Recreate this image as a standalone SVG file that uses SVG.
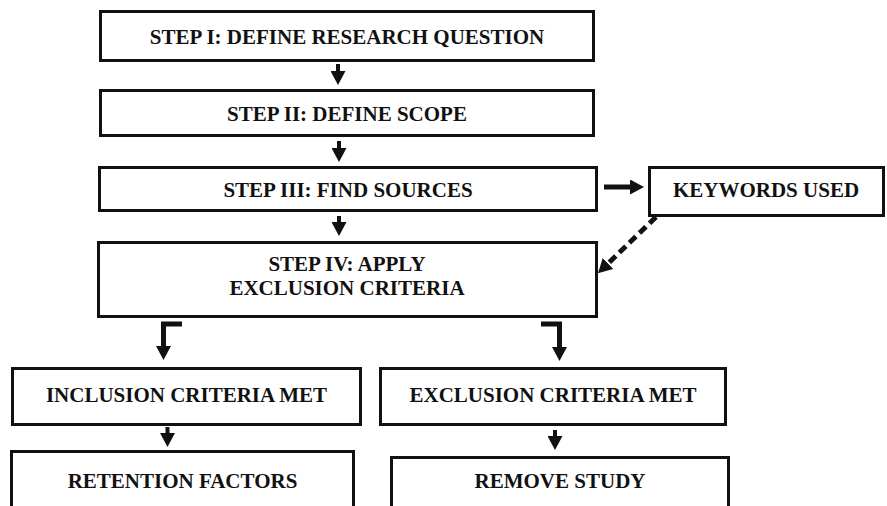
<svg xmlns="http://www.w3.org/2000/svg" width="887" height="506" viewBox="0 0 887 506">
  <style>
    .box { fill: #ffffff; stroke: #111111; stroke-width: 3; }
    .lbl { font-family: "Liberation Serif", "Times New Roman", serif; font-weight: bold; font-size: 21px; fill: #111111; text-anchor: middle; }
    .con { fill: none; stroke: #111111; stroke-linejoin: miter; stroke-linecap: butt; }
    .thin { stroke-width: 4; }
    .thick { stroke-width: 5; }
    .dash { stroke-width: 5; stroke-dasharray: 9 5; }
  </style>
  <defs>
    <marker id="head" viewBox="0 0 14 15" refX="0" refY="7.5" markerWidth="14" markerHeight="15" markerUnits="userSpaceOnUse" orient="auto">
      <path d="M0,0 L14,7.5 L0,15 Z" fill="#111111"/>
    </marker>
  </defs>
  <rect width="887" height="506" fill="#ffffff"/>

  <g id="step1">
    <rect class="box" x="100.5" y="11.5" width="493" height="49"/>
    <text class="lbl" x="347" y="44">STEP I: DEFINE RESEARCH QUESTION</text>
  </g>
  <g id="step2">
    <rect class="box" x="100.5" y="90.5" width="493" height="45"/>
    <text class="lbl" x="347" y="121">STEP II: DEFINE SCOPE</text>
  </g>
  <g id="step3">
    <rect class="box" x="99.5" y="167.5" width="497" height="43"/>
    <text class="lbl" x="348" y="197">STEP III: FIND SOURCES</text>
  </g>
  <g id="keywords">
    <rect class="box" x="649.5" y="167.5" width="234" height="48"/>
    <text class="lbl" x="766" y="197">KEYWORDS USED</text>
  </g>
  <g id="step4">
    <rect class="box" x="98.5" y="242.5" width="498" height="74"/>
    <text class="lbl" x="347" y="271">STEP IV: APPLY</text>
    <text class="lbl" x="347" y="295">EXCLUSION CRITERIA</text>
  </g>
  <g id="inclusion">
    <rect class="box" x="12.5" y="368.5" width="348" height="56"/>
    <text class="lbl" x="186.5" y="402">INCLUSION CRITERIA MET</text>
  </g>
  <g id="exclusion">
    <rect class="box" x="380.5" y="368.5" width="345" height="56"/>
    <text class="lbl" x="553" y="402">EXCLUSION CRITERIA MET</text>
  </g>
  <g id="retention">
    <rect class="box" x="11.5" y="451.5" width="342" height="70"/>
    <text class="lbl" x="182.5" y="488">RETENTION FACTORS</text>
  </g>
  <g id="remove">
    <rect class="box" x="391.5" y="457.5" width="337" height="70"/>
    <text class="lbl" x="560" y="488">REMOVE STUDY</text>
  </g>

  <g id="connectors">
    <line class="con thin" x1="338" y1="64" x2="338" y2="71" marker-end="url(#head)"/>
    <line class="con thin" x1="339" y1="141" x2="339" y2="148" marker-end="url(#head)"/>
    <line class="con thin" x1="339" y1="216" x2="339" y2="222" marker-end="url(#head)"/>
    <line class="con thick" x1="604" y1="187" x2="630" y2="187" marker-end="url(#head)"/>
    <line class="con dash" x1="656" y1="217" x2="608" y2="263.5" marker-end="url(#head)"/>
    <path class="con thick" d="M182,324 H163.5 V346" marker-end="url(#head)"/>
    <path class="con thick" d="M541,324 H559.5 V347" marker-end="url(#head)"/>
    <line class="con thin" x1="167.5" y1="427" x2="167.5" y2="433" marker-end="url(#head)"/>
    <line class="con thin" x1="555" y1="430" x2="555" y2="436" marker-end="url(#head)"/>
  </g>
</svg>
